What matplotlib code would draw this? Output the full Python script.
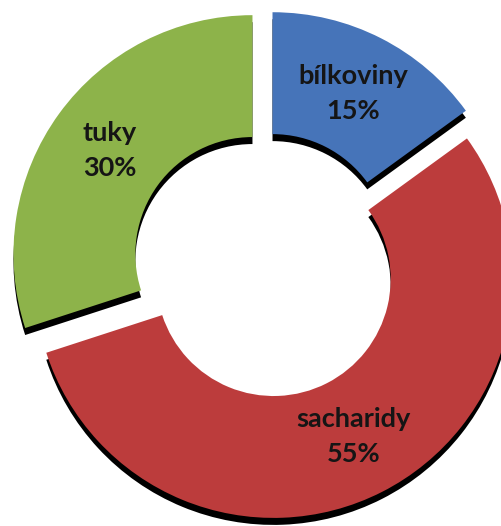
import matplotlib.pyplot as plt

categories = ["bílkoviny", "sacharidy", "tuky"]
shares = [15, 55, 30]
colors = ["#4674B9", "#BC3C3C", "#8DB34A"]
explode = [0.06, 0.07, 0.07]

W, H = 502, 526
R_PX = 239            # outer radius in pixels
CX, CY = 266, 264     # pie centre, pixels from top-left
SHADOW_PX = 7

fig = plt.figure(figsize=(W / 100, H / 100), dpi=100)
ax = fig.add_axes([0, 0, 1, 1])

ring = dict(width=0.51, linewidth=0)

# black drop shadow, shifted down
ax.pie(shares, explode=explode, startangle=90, counterclock=False,
       colors=["black"] * len(shares), wedgeprops=ring,
       center=(0, -SHADOW_PX / R_PX), frame=True)

wedges, _, autotexts = ax.pie(
    shares, explode=explode, startangle=90, counterclock=False,
    colors=colors, wedgeprops=ring, autopct="%1.0f%%", pctdistance=0.74,
    frame=True,
    textprops=dict(family="Lato", fontweight="bold", fontsize=19.5, color="#151515"))

for t, name in zip(autotexts, categories):
    t.set_text(f"{name}\n{t.get_text()}")
    t.set_linespacing(1.55)

ax.set_xlim(-CX / R_PX, (W - CX) / R_PX)
ax.set_ylim(-(H - CY) / R_PX, CY / R_PX)
ax.axis("off")

fig.savefig("out.png", dpi=100)
